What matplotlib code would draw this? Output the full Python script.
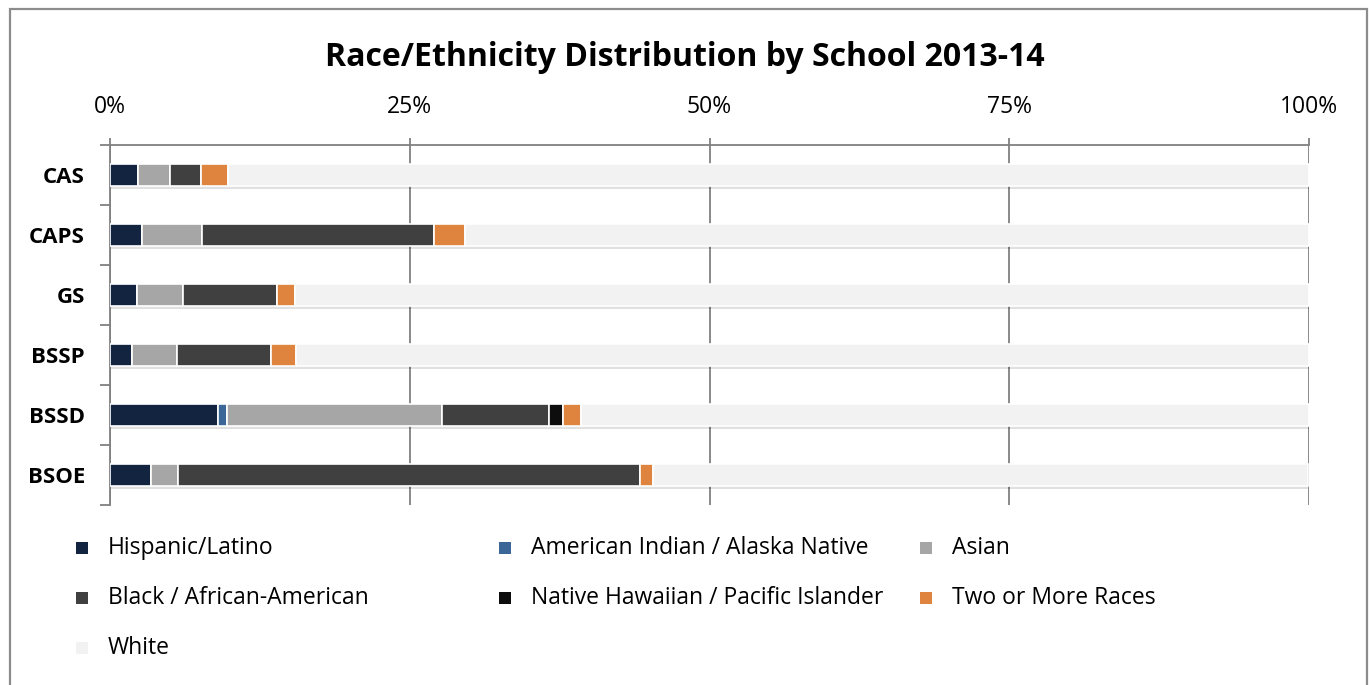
import numpy as np
import matplotlib.pyplot as plt
from matplotlib.patches import Rectangle

# --- Data (% of students) ---
schools = ["CAS", "CAPS", "GS", "BSSP", "BSSD", "BSOE"]
groups = ["Hispanic/Latino", "American Indian / Alaska Native", "Asian",
          "Black / African-American", "Native Hawaiian / Pacific Islander",
          "Two or More Races", "White"]
hispanic = [2.3, 2.7, 2.25, 1.8, 9.0, 3.4]
amer_indian = [0.0, 0.0, 0.0, 0.0, 0.75, 0.0]
asian = [2.7, 5.0, 3.8, 3.8, 17.9, 2.3]
black = [2.6, 19.3, 7.85, 7.8, 9.0, 38.5]
hawaiian = [0.0, 0.0, 0.0, 0.0, 1.15, 0.0]
two_more = [2.2, 2.6, 1.55, 2.1, 1.5, 1.1]
white = [90.2, 70.4, 84.55, 84.5, 60.7, 54.6]
x_ticks = [0, 25, 50, 75, 100]
x_tick_labels = ["0%", "25%", "50%", "75%", "100%"]

colors = ["#12243f", "#3a6698", "#a6a6a6", "#404040", "#0d0d0d", "#de843e", "#f2f2f2"]
FONT = "Open Sans"

W, H = 1369, 685
fig = plt.figure(figsize=(W / 100, H / 100), dpi=100)
plt.rcParams['font.family'] = [FONT, 'DejaVu Sans']

# outer border of the chart
fig.add_artist(Rectangle((10 / W, -0.01), 1357 / W, 1 - 9 / H + 0.01,
                         transform=fig.transFigure, fill=False,
                         edgecolor="#8c8c8c", linewidth=1.6))

ax = fig.add_axes([110 / W, 1 - 505 / H, 1199 / W, 360 / H])

series = [hispanic, amer_indian, asian, black, hawaiian, two_more, white]
y = np.arange(len(schools))
left = np.zeros(len(schools))
for vals, col, name in zip(series, colors, groups):
    vals = np.array(vals)
    # soft shadow under each segment
    ax.barh(y + 0.05, vals, left=left, height=0.37, color="#000000",
            alpha=0.12, linewidth=0, zorder=2)
    ax.barh(y, vals, left=left, height=0.37, color=col, edgecolor="white",
            linewidth=1.2, label=name, zorder=3)
    left += vals

ax.set_xlim(0, 100)
ax.set_ylim(len(schools) - 0.5, -0.5)
ax.set_yticks(y)
ax.set_yticklabels(schools, fontsize=16, fontweight="bold")
ax.set_yticks(np.arange(len(schools) + 1) - 0.5, minor=True)
ax.tick_params(axis="y", which="major", length=0, pad=18)
ax.tick_params(axis="y", which="minor", length=7, color="#808080", width=1.3)

ax.xaxis.tick_top()
ax.set_xticks(x_ticks)
ax.set_xticklabels(x_tick_labels, fontsize=16.5)
ax.tick_params(axis="x", length=5, color="#808080", width=1.3, pad=14)
ax.grid(axis="x", color="#808080", linewidth=1.3, zorder=0)
ax.set_axisbelow(True)

for side in ["right", "bottom"]:
    ax.spines[side].set_visible(False)
for side in ["top", "left"]:
    ax.spines[side].set_color("#808080")
    ax.spines[side].set_linewidth(1.3)

fig.text(0.5, 1 - 57 / H, "Race/Ethnicity Distribution by School 2013-14",
         ha="center", va="center", fontsize=23, fontweight="bold")

# legend, laid out row by row like the original
col_x = [82, 505, 926]
row_y = [548, 598, 648]
sq = 12
for i, (name, col) in enumerate(zip(groups, colors)):
    cx, cy = col_x[i % 3], row_y[i // 3]
    fig.add_artist(Rectangle(((cx - sq / 2) / W, 1 - (cy + sq / 2) / H), sq / W, sq / H,
                             transform=fig.transFigure, facecolor=col, edgecolor="none"))
    fig.text((cx + 26) / W, 1 - cy / H, name, ha="left", va="center", fontsize=16.5)

fig.savefig("out.png", dpi=100)
